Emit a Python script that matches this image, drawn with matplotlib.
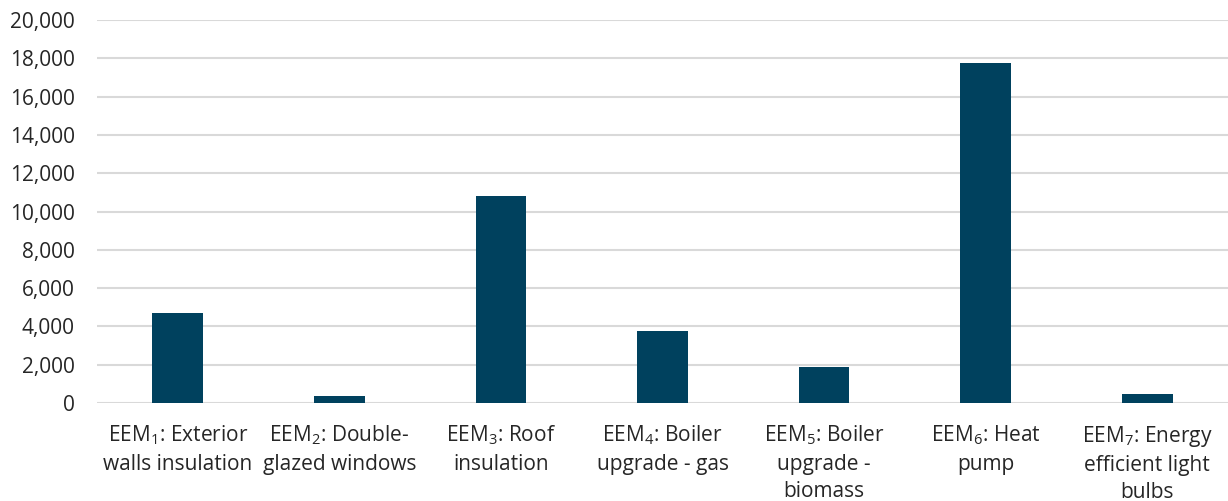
import matplotlib.pyplot as plt
import numpy as np

plt.rcParams['font.family'] = ['Open Sans', 'DejaVu Sans']
plt.rcParams['mathtext.fontset'] = 'custom'
plt.rcParams['mathtext.rm'] = 'Open Sans'
plt.rcParams['mathtext.it'] = 'Open Sans'

labels = [
    'EEM$_1$: Exterior\nwalls insulation',
    'EEM$_2$: Double-\nglazed windows',
    'EEM$_3$: Roof\ninsulation',
    'EEM$_4$: Boiler\nupgrade - gas',
    'EEM$_5$: Boiler\nupgrade -\nbiomass',
    'EEM$_6$: Heat\npump',
    'EEM$_7$: Energy\nefficient light\nbulbs',
]
values = [4700, 370, 10800, 3750, 1900, 17750, 480]
yticks = np.arange(0, 20001, 2000)

fig = plt.figure(figsize=(12.28, 5.01), dpi=100)
ax = fig.add_axes([0.079, 0.1956, 0.921, 0.7644])

x = np.arange(len(values))
ax.bar(x, values, width=0.314, color='#00415E', zorder=3)

ax.set_xlim(-0.5, len(values) - 0.5)
ax.set_ylim(0, 20000)
ax.set_yticks(yticks)
ax.set_yticklabels([f'{v:,}' for v in yticks])
ax.set_xticks(x)
ax.set_xticklabels(labels, linespacing=1.38)
ax.grid(axis='y', color='#d9d9d9', linewidth=1.5, zorder=0)
ax.set_axisbelow(True)

for s in ax.spines.values():
    s.set_visible(False)
ax.tick_params(axis='y', length=0, pad=16, labelsize=15, labelcolor='#262626')
ax.tick_params(axis='x', length=0, pad=15, labelsize=15, labelcolor='#262626')

fig.savefig('out.png', dpi=100)
